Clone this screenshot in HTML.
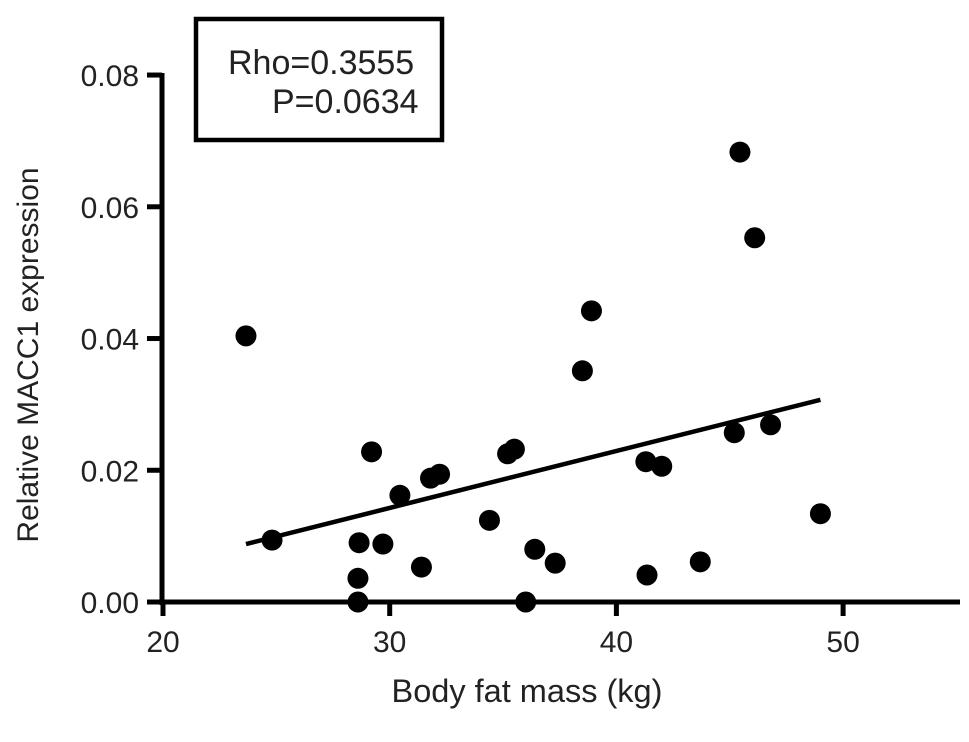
<!DOCTYPE html>
<html><head><meta charset="utf-8"><style>
body{margin:0;background:#fff}
svg text{font-family:"Liberation Sans",sans-serif;fill:#222}
</style></head><body>
<svg width="969" height="737">
<g id="plot"></g>
</svg>
<script>
const xVals=[23.66,24.81,28.65,28.6,28.6,29.2,29.7,30.45,31.4,31.8,32.2,34.4,35.2,35.5,36.0,36.4,37.3,38.5,38.9,41.3,41.35,42.0,43.7,45.2,45.45,46.1,46.8,49.0];
const yVals=[0.0404,0.0094,0.0090,0.0036,0,0.0228,0.0088,0.0162,0.0053,0.0188,0.0194,0.0124,0.0225,0.0232,0,0.0080,0.0059,0.0351,0.0442,0.0213,0.0041,0.0206,0.0061,0.0257,0.0683,0.0553,0.0269,0.0134];
const xTicks=[20,30,40,50];
const yTicks=[0,0.02,0.04,0.06,0.08];
const yTickLabels=["0.00","0.02","0.04","0.06","0.08"];
const fitLine=[[23.66,0.0088],[49.0,0.0307]];
const stats=["Rho=0.3555","P=0.0634"];

const NS="http://www.w3.org/2000/svg";
const g=document.getElementById('plot');
const sx=v=>163+(v-20)*22.67;
const sy=v=>602-v*6587;
function mk(t,a,parent){const e=document.createElementNS(NS,t);for(const k in a)e.setAttribute(k,a[k]);(parent||g).appendChild(e);return e;}

let ax=mk('line',{x1:162,y1:73,x2:162,y2:605,stroke:'#000','stroke-width':5});


ax=mk('line',{x1:147,y1:602,x2:960,y2:602,stroke:'#000','stroke-width':5});



xTicks.forEach(v=>{
  const t=mk('line',{x1:sx(v),y1:602,x2:sx(v),y2:616,stroke:'#000','stroke-width':5});
  
  
  const l=mk('text',{x:sx(v),y:652,'font-size':30,'text-anchor':'middle'});
  l.textContent=v;
  
  
});
yTicks.forEach((v,i)=>{
  const t=mk('line',{x1:147,y1:sy(v),x2:162,y2:sy(v),stroke:'#000','stroke-width':5});
  
  
  const l=mk('text',{x:139,y:sy(v)+11,'font-size':30,'text-anchor':'end'});
  l.textContent=yTickLabels[i];
  
  
});

let xt=mk('text',{x:527,y:702,'font-size':32.5,'text-anchor':'middle'});
xt.textContent='Body fat mass (kg)';


let yt=mk('text',{x:0,y:0,'font-size':30,'text-anchor':'middle',transform:'translate(38,355) rotate(-90)'});
yt.textContent='Relative MACC1 expression';



xVals.forEach((x,i)=>{
  const c=mk('circle',{cx:sx(x),cy:sy(yVals[i]),r:10.5,fill:'#000'});
  
  
});
const rl=mk('line',{x1:sx(fitLine[0][0]),y1:sy(fitLine[0][1]),x2:sx(fitLine[1][0]),y2:sy(fitLine[1][1]),stroke:'#000','stroke-width':4.5});



const box=mk('rect',{x:196,y:19,width:246,height:121,fill:'#fff',stroke:'#000','stroke-width':4.5});


const s1=mk('text',{x:228,y:74,'font-size':34});
s1.textContent=stats[0];


const s2=mk('text',{x:272,y:113,'font-size':34});
s2.textContent=stats[1];


</script>
</body></html>
